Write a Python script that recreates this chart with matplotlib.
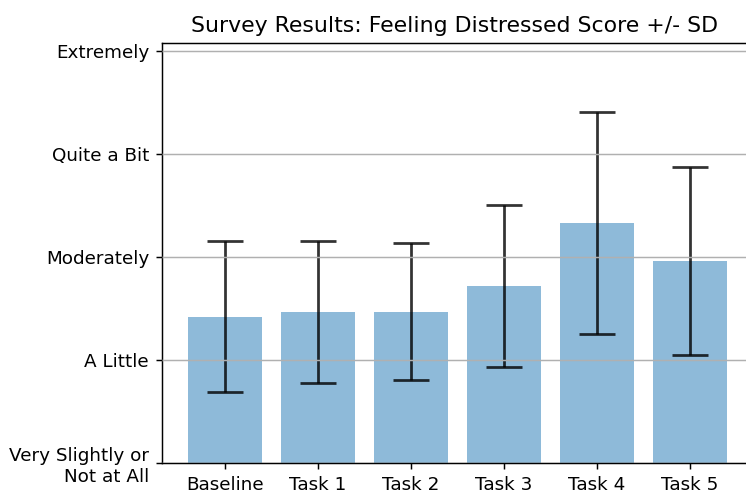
import matplotlib
matplotlib.use("Agg")
import matplotlib.pyplot as plt
import numpy as np

# Survey scores per condition (mean and standard deviation)
conditions = ['Baseline', 'Task 1', 'Task 2', 'Task 3', 'Task 4', 'Task 5']
means = [2.42, 2.47, 2.47, 2.72, 3.33, 2.965]
sds = [0.734, 0.69, 0.667, 0.787, 1.079, 0.912]
scale_labels = ['Very Slightly or\nNot at All', 'A Little', 'Moderately',
                'Quite a Bit', 'Extremely']

x_pos = np.arange(len(conditions))

dpi = 132
fig = plt.figure(figsize=(746 / dpi, 491 / dpi), dpi=dpi)
ax = fig.add_axes([0.217, 0.057, 0.785, 0.856])

ax.bar(x_pos, means, yerr=sds, align='center', alpha=0.5, ecolor='black',
       capsize=10, error_kw={'elinewidth': 1.5, 'capthick': 1.5, 'alpha': 0.8})
ax.set_xticks(x_pos)
ax.set_xticklabels(conditions)
ax.set_yticks([1, 2, 3, 4, 5])
ax.set_yticklabels(scale_labels)
ax.set_ylim(1, 5.084)
ax.set_xlim(-0.68, 5.62)
ax.set_title('Survey Results: Feeling Distressed Score +/- SD')
ax.yaxis.grid(True)
ax.set_axisbelow(False)

fig.savefig('out.png', dpi=dpi)
